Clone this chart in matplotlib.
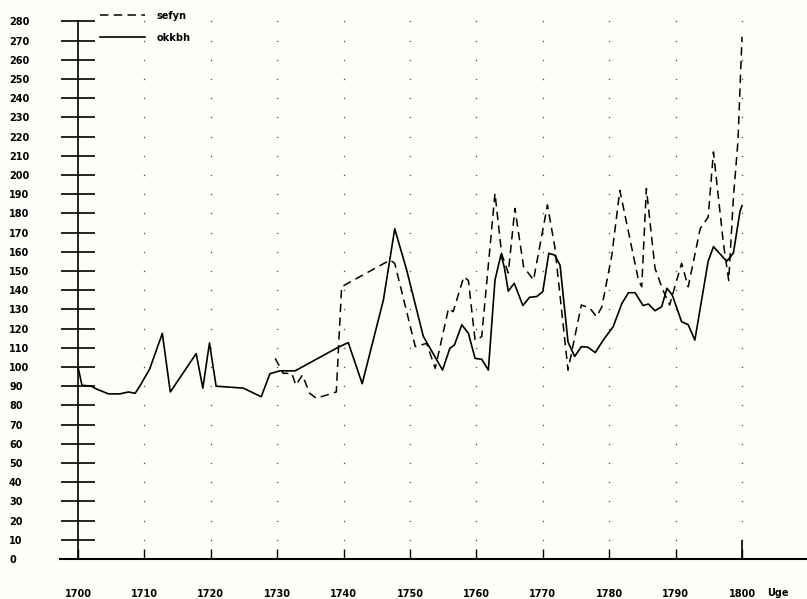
import matplotlib
matplotlib.use("Agg")
import matplotlib.pyplot as plt
import numpy as np

# ---- data ----
okkbh_year = [1700.0, 1700.6, 1702.0, 1702.8, 1704.6, 1706.3, 1707.6, 1708.6, 1709.3,
              1710.8, 1712.7, 1713.9, 1717.8, 1718.8, 1719.8, 1720.8, 1724.9, 1727.6,
              1728.9, 1730.4, 1732.7, 1739.2, 1740.7, 1742.8, 1746.0, 1747.7, 1749.5,
              1752.0, 1754.9, 1756.0, 1756.7, 1757.8, 1758.8, 1759.8, 1760.8, 1761.8,
              1762.8, 1763.7, 1764.2, 1764.8, 1765.7, 1767.0, 1768.0, 1769.1, 1770.0,
              1770.9, 1771.8, 1772.6, 1773.8, 1774.8, 1775.8, 1776.8, 1777.9, 1779.1,
              1780.6, 1781.9, 1782.9, 1783.9, 1785.1, 1785.9, 1786.9, 1787.9, 1788.7,
              1789.5, 1790.9, 1791.9, 1792.9, 1794.9, 1795.7, 1797.7, 1798.7, 1799.7,
              1800.0]
okkbh_val = [100, 90.5, 90, 88.5, 86, 86, 87, 86.3, 90,
             99, 117.5, 87, 107, 89, 112.5, 90, 89, 84.5,
             96.5, 98, 98, 110.3, 112.7, 91.3, 135, 172, 150.5,
             116, 98.4, 109.7, 111.5, 122, 117.5, 104.5, 104, 98.4,
             145.3, 158.5, 152, 139.5, 143.6, 132, 136.3, 136.7, 139.3,
             159.2, 158.3, 153, 113, 105.5, 110.6, 110.3, 107.5, 114,
             121, 133, 138.7, 138.7, 132, 132.8, 129.3, 131.4, 141,
             137.5, 123.6, 122, 114, 155, 162.7, 155, 159.3, 181,
             184]

sefyn_year = [1729.7, 1730.9, 1732.2, 1732.8, 1733.8, 1734.9, 1735.9, 1738.9, 1739.7,
              1747.0, 1747.7, 1750.8, 1752.5, 1753.8, 1755.8, 1756.5, 1758.1, 1758.8,
              1759.8, 1760.8, 1762.8, 1763.8, 1764.8, 1765.8, 1767.1, 1768.6, 1770.7,
              1771.8, 1773.8, 1775.8, 1777.1, 1778.1, 1778.9, 1780.4, 1781.6, 1784.4,
              1784.9, 1785.6, 1786.9, 1788.1, 1789.1, 1790.9, 1791.9, 1793.7, 1794.9,
              1795.7, 1797.2, 1798.0, 1798.7, 1799.4, 1800.0]
sefyn_val = [104.5, 96.7, 96.7, 90.6, 95.8, 86.3, 83.7, 87, 141.8,
             155.7, 154, 110.6, 112.3, 99.3, 130.5, 128.8, 147, 145,
             114, 115.8, 190.5, 159, 149, 182.6, 152.3, 145.3, 184.4,
             162.7, 98.4, 132.3, 130.6, 126.2, 131.4, 158.3, 192, 145.3,
             141.8, 193, 151.4, 140, 132.3, 154, 141.8, 172, 178,
             212, 164.4, 145, 188, 218, 272]

x_ticks = list(range(1700, 1801, 10))
y_ticks = list(range(0, 281, 10))

FONT = ["DejaVu Sans"]
plt.rcParams["font.family"] = FONT

W, H = 807, 599
fig = plt.figure(figsize=(W / 100, H / 100), dpi=100, facecolor="#fffefa")

# akse: bundlinje fra x=60px, y=0 ved 559px
px_year = 6.64
px_unit = 1.92
ax = fig.add_axes([60 / W, (H - 559) / H, (W - 60) / W, 559 / H])
ax.set_facecolor("#fffefa")
ax.set_xlim(1700 - 18 / px_year, 1700 + (W - 78) / px_year)
ax.set_ylim(0, 559 / px_unit)

for s in ["top", "right"]:
    ax.spines[s].set_visible(False)
ax.spines["left"].set_position(("data", 1700))
ax.spines["left"].set_bounds(0, 280)
ax.spines["left"].set_linewidth(1.2)
ax.spines["bottom"].set_linewidth(1.5)

ax.set_xticks(x_ticks)
ax.set_xticklabels([str(t) for t in x_ticks])
ax.set_yticks(y_ticks)
ax.set_yticklabels([str(t) for t in y_ticks])

ax.tick_params(axis="y", direction="inout", length=24.5, width=1.2, pad=37.4,
               labelsize=7)
ax.tick_params(axis="x", direction="in", length=7.2, width=1.0, pad=21.5,
               labelsize=7)
for lab in ax.get_yticklabels():
    lab.set_ha("left")
    lab.set_fontweight("bold")
for lab in ax.get_xticklabels():
    lab.set_fontweight("bold")

# længere streg ved 1800
ax.vlines(1800, 0, 10, color="black", lw=1.2)

# prikket gitter
gx, gy = np.meshgrid(x_ticks[1:], y_ticks[1:])
ax.scatter(gx.ravel(), gy.ravel(), s=1.2, color="#555555", linewidths=0, zorder=1)

ax.plot(sefyn_year, sefyn_val, color="black", lw=1.1, dashes=(5.5, 3.5), label="sefyn",
        zorder=3)
ax.plot(okkbh_year, okkbh_val, color="black", lw=1.2, label="okkbh", zorder=3)

ax.legend(loc="upper left", bbox_to_anchor=(95 / W, 1 - 6 / H),
          bbox_transform=fig.transFigure, frameon=False, borderpad=0,
          handlelength=4.6, handletextpad=1.2, labelspacing=1.2,
          prop={"family": FONT, "size": 7, "weight": "bold"})

fig.text(778 / W, 1 - 593 / H, "Uge", fontsize=7, fontweight="bold",
         ha="center", va="center")

fig.savefig("out.png", dpi=100, facecolor=fig.get_facecolor())
